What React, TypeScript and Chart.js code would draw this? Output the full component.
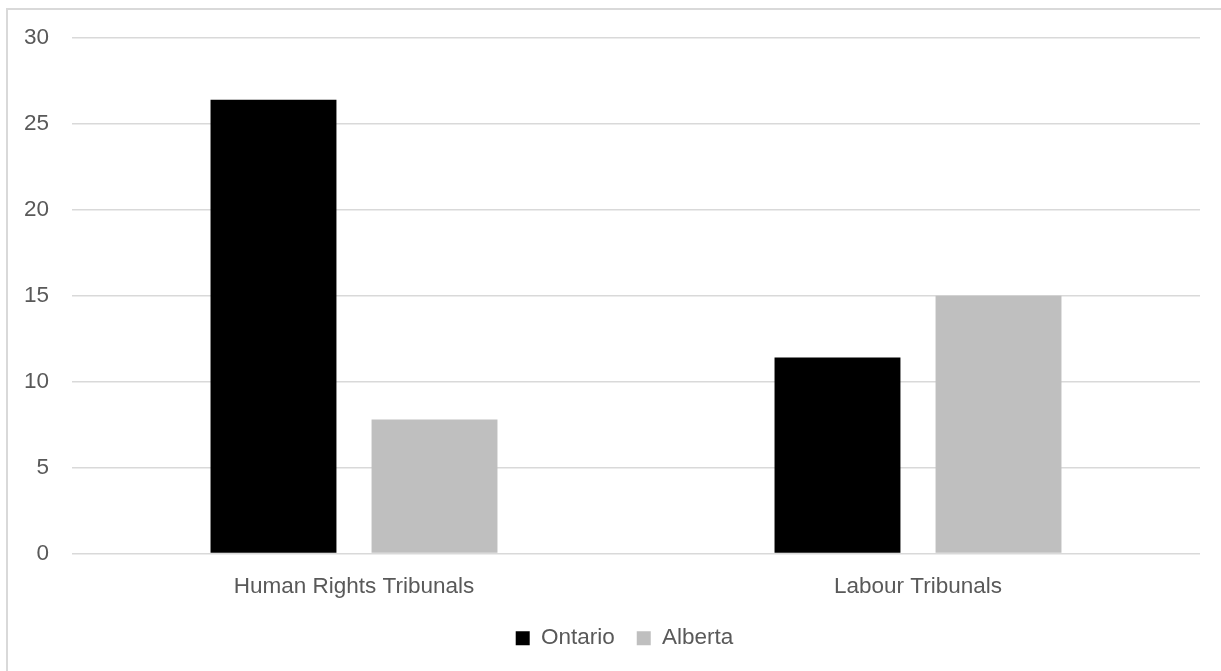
import React, { useEffect, useRef } from "react";
import { Chart, registerables } from "chart.js";

Chart.register(...registerables);

const categories = ["Human Rights Tribunals", "Labour Tribunals"];
const seriesNames = ["Ontario", "Alberta"];
const ontarioValues = [26.4, 11.4];
const albertaValues = [7.8, 15.0];
const yMin = 0;
const yMax = 30;
const yStep = 5;

const TEXT = "#595959";
const FONT = "'Liberation Sans', Arial, sans-serif";
const FS = 22.5;

const legendShift = {
  id: "legendShift",
  afterLayout(chart: any) {
    const l = chart.legend;
    if (l) {
      l.left += 41;
    }
  },
};

export default function App() {
  const ref = useRef<HTMLCanvasElement | null>(null);

  useEffect(() => {
    if (!ref.current) return;
    const chart = new Chart(ref.current, {
      type: "bar",
      data: {
        labels: categories,
        datasets: [
          {
            label: seriesNames[0],
            data: ontarioValues,
            backgroundColor: "#000000",
            borderWidth: 0,
          },
          {
            label: seriesNames[1],
            data: albertaValues,
            backgroundColor: "#bfbfbf",
            borderWidth: 0,
          },
        ],
      },
      options: {
        responsive: false,
        animation: false,
        layout: { padding: { left: 0, right: 21, top: 28, bottom: 11.5 } },
        datasets: {
          bar: { categoryPercentage: 0.571, barPercentage: 0.782 },
        },
        scales: {
          x: {
            grid: { display: false, drawTicks: false },
            border: { display: false },
            ticks: {
              color: TEXT,
              font: { family: FONT, size: FS },
              padding: 19.5,
              maxRotation: 0,
            },
            afterFit: (scale: any) => {
              scale.height = 51.5;
            },
          },
          y: {
            min: yMin,
            max: yMax,
            grid: { color: "#d9d9d9", lineWidth: 1.5, drawTicks: false },
            border: { display: false },
            ticks: {
              stepSize: yStep,
              color: TEXT,
              font: { family: FONT, size: FS },
              padding: 23,
            },
            afterFit: (scale: any) => {
              scale.width = 64;
              scale.paddingTop = 0;
              scale.paddingBottom = 0;
            },
          },
        },
        plugins: {
          legend: {
            position: "bottom",
            labels: {
              color: TEXT,
              font: { family: FONT, size: FS },
              boxWidth: 14,
              boxHeight: 14,
              padding: 22,
            },
          },
          tooltip: { enabled: false },
          title: { display: false },
        },
      },
      plugins: [legendShift],
    });
    return () => chart.destroy();
  }, []);

  return (
    <div
      style={{
        position: "fixed",
        left: 6,
        top: 8,
        width: 1215,
        height: 663,
        borderLeft: "2px solid #d9d9d9",
        borderTop: "2px solid #d9d9d9",
        background: "#ffffff",
      }}
    >
      <canvas ref={ref} width={1213} height={661} style={{ display: "block" }} />
    </div>
  );
}
